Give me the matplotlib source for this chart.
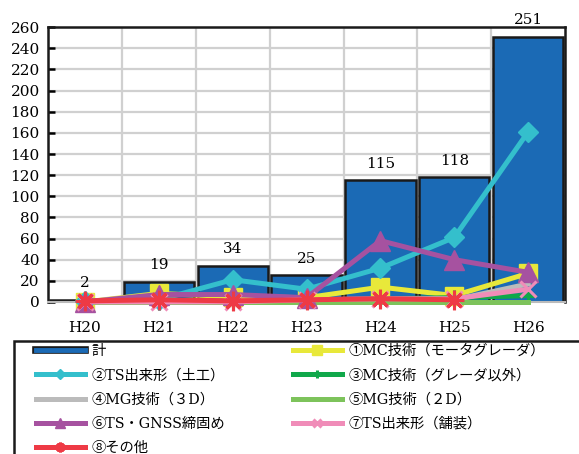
import matplotlib
matplotlib.use("Agg")
import matplotlib.pyplot as plt
import matplotlib.patheffects as pe
from matplotlib.patches import Rectangle
from matplotlib.lines import Line2D
import numpy as np

plt.rcParams['font.family'] = ['DejaVu Serif', 'Noto Sans CJK JP', 'DejaVu Sans']

years = ['H20', 'H21', 'H22', 'H23', 'H24', 'H25', 'H26']
total = [2, 19, 34, 25, 115, 118, 251]

mc_motor = [0, 8, 5, 4, 14, 6, 27]        # ①
ts_earth = [1, 2, 21, 12, 32, 61, 161]    # ②
mc_other = [0, 0, 0, 1, 3, 4, 6]          # ③
mg_3d = [0, 0, 0, 0, 2, 2, 17]            # ④
mg_2d = [0, 0, 0, 0, 0, 0, 0]             # ⑤
ts_gnss = [0, 7, 7, 4, 58, 40, 28]        # ⑥
ts_pave = [0, 0, 0, 2, 3, 3, 12]          # ⑦
others = [1, 2, 1, 2, 3, 2, np.nan]       # ⑧ (no H26 entry)

labels = {
    'total': '計',
    'mc_motor': '①MC技術（モータグレーダ）',
    'ts_earth': '②TS出来形（土工）',
    'mc_other': '③MC技術（グレーダ以外）',
    'mg_3d': '④MG技術（３D）',
    'mg_2d': '⑤MG技術（２D）',
    'ts_gnss': '⑥TS・GNSS締固め',
    'ts_pave': '⑦TS出来形（舗装）',
    'others': '⑧その他',
}

fig = plt.figure(figsize=(5.79, 4.54), dpi=100)
ax = fig.add_axes([0.083, 0.335, 0.893, 0.605])

x = np.arange(len(years))
ax.bar(x, total, width=0.95, color='#1B6AB5', edgecolor='#1a1a1a',
       linewidth=1.8, zorder=2)
for xi, v in zip(x, total):
    ax.annotate(str(v), (xi, v), xytext=(0, 7), textcoords='offset points',
                ha='center', va='bottom', fontsize=11, annotation_clip=False)

lw = 3.6
series = [
    ('mc_motor', mc_motor, '#E8E83A', 's', 13),
    ('mc_other', mc_other, '#10A84A', '+', 12),
    ('mg_3d', mg_3d, '#BBBBBB', None, 0),
    ('mg_2d', mg_2d, '#7DC35B', None, 0),
    ('ts_earth', ts_earth, '#34BFCC', 'D', 10),
    ('ts_gnss', ts_gnss, '#A652A0', '^', 14),
    ('ts_pave', ts_pave, '#F08CB8', 'x', 11),
    ('others', others, '#EE3A45', (8, 2, 0), 14),
]
# legend patch for the totals: thin blue bar with a dark outline
handles = {'total': Line2D([], [], color='#1B6AB5', lw=3.5,
                           path_effects=[pe.Stroke(linewidth=5.5, foreground='#1a1a1a'),
                                         pe.Normal()])}
for key, vals, col, mk, ms in series:
    ln, = ax.plot(x, vals, color=col, lw=lw, marker=mk, markersize=ms,
                  markeredgewidth=2.2 if mk in ('+', 'x', (8, 2, 0)) else 1,
                  markeredgecolor=col, zorder=3, clip_on=False, label=labels[key])
    handles[key] = ln

ax.set_xlim(-0.5, 6.5)
ax.set_ylim(0, 260)
ax.set_yticks(np.arange(0, 261, 20))
ax.set_xticks(x)
ax.set_xticklabels(years)
ax.set_axisbelow(True)
ax.yaxis.grid(True, color='#D0D0D0', lw=1.6)
for b in np.arange(0.5, 6.5, 1):
    ax.axvline(b, color='#D0D0D0', lw=1.6, zorder=0)

ax.tick_params(axis='y', direction='in', length=5, width=1.8, labelsize=11, pad=6)
ax.tick_params(axis='x', length=0, labelsize=11, pad=14)
for side in ('left', 'top', 'right'):
    ax.spines[side].set_linewidth(1.8)
    ax.spines[side].set_color('#1a1a1a')
ax.spines['bottom'].set_color('#BBBBBB')
ax.spines['bottom'].set_linewidth(1.5)

# legend frame running off the page edge
fig.patches.append(Rectangle((14 / 579, -0.2), 1.2, 0.2 + 1 - 341 / 454,
                             transform=fig.transFigure, fill=False,
                             edgecolor='#1a1a1a', lw=1.8))

leg_kw = dict(frameon=False, fontsize=10.3, handlelength=3.4, handletextpad=0.5,
              labelspacing=0.72, borderpad=0, borderaxespad=0, loc='upper left',
              markerscale=0.5)
left_keys = ['total', 'ts_earth', 'mg_3d', 'ts_gnss', 'others']
right_keys = ['mc_motor', 'mc_other', 'mg_2d', 'ts_pave']
fig.legend([handles[k] for k in left_keys], [labels[k] for k in left_keys],
           bbox_to_anchor=(36 / 579, 1 - 344 / 454), **leg_kw)
fig.legend([handles[k] for k in right_keys], [labels[k] for k in right_keys],
           bbox_to_anchor=(293 / 579, 1 - 344 / 454), **leg_kw)

fig.savefig('out.png', dpi=100)
